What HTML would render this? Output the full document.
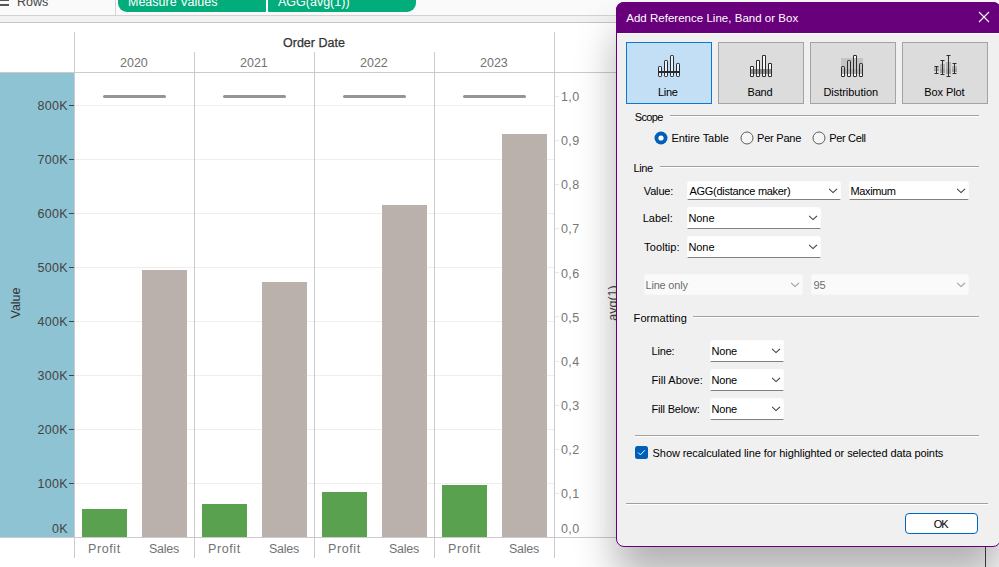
<!DOCTYPE html>
<html><head><meta charset="utf-8">
<style>
*{margin:0;padding:0;box-sizing:border-box}
html,body{width:999px;height:567px;overflow:hidden;background:#fff;font-family:"Liberation Sans",sans-serif}
.a{position:absolute}
.t{position:absolute;white-space:nowrap;line-height:1}
.ct{font-size:12.5px;color:#737373}
.dt{font-size:11px;color:#000}
.vl{position:absolute;width:1px;background:#cbcbcb}
.hl{position:absolute;height:1px;background:#cbcbcb}
.grid{position:absolute;height:1px;background:#eeeeee;left:75px;width:479px}
.tk{position:absolute;height:1px;width:5px;left:69px;background:#444}
.ylab{position:absolute;right:931px;font-size:12.5px;color:#444;letter-spacing:0.3px;line-height:1;white-space:nowrap}
.rlab{position:absolute;left:561px;font-size:12.5px;color:#777;letter-spacing:0.4px;line-height:1;white-space:nowrap}
.bar{position:absolute;width:45px}
.p{background:#59a14f}
.s{background:#bab0ac}
.ref{position:absolute;height:3px;width:63px;background:#959595;border-radius:2px;top:94.5px}
</style></head><body>
<!-- top bar -->
<div class="a" style="left:0;top:0;width:999px;height:15px;background:#fafafa"></div>
<div class="a" style="left:0;top:15px;width:999px;height:1px;background:#d3d3d3"></div>
<div class="a" style="left:0;top:16px;width:999px;height:6px;background:#f2f2f2"></div>
<div class="a" style="left:0;top:22px;width:999px;height:1px;background:#c4c4c4"></div>
<div class="a" style="left:0;top:-1px;width:9px;height:2px;background:#555"></div>
<div class="a" style="left:0;top:4px;width:9px;height:2px;background:#555"></div>
<div class="t" style="left:17px;top:-3.6px;font-size:12.5px;color:#444">Rows</div>
<div class="a" style="left:115px;top:0;width:1px;height:15px;background:#d6d6d6"></div>
<div class="a" style="left:118px;top:-12px;width:148px;height:24px;background:#03ac7b;border-radius:9px 1px 1px 9px"></div>
<div class="a" style="left:268px;top:-12px;width:148px;height:24px;background:#03ac7b;border-radius:1px 9px 9px 1px"></div>
<div class="t" style="left:128px;top:-4px;font-size:12.5px;color:#fff">Measure Values</div>
<div class="t" style="left:278px;top:-4px;font-size:12.5px;color:#fff">AGG(avg(1))</div>

<!-- chart -->
<div class="a" style="left:0;top:73px;width:74px;height:464px;background:#8dc3d3"></div>
<div class="t" style="left:283px;top:37px;font-size:12.5px;color:#333;-webkit-text-stroke:0.25px #333">Order Date</div>
<div class="t ct" style="left:120px;top:57.4px">2020</div>
<div class="t ct" style="left:240px;top:57.4px">2021</div>
<div class="t ct" style="left:360px;top:57.4px">2022</div>
<div class="t ct" style="left:480px;top:57.4px">2023</div>

<div class="grid" style="top:105px"></div>
<div class="grid" style="top:159px"></div>
<div class="grid" style="top:213px"></div>
<div class="grid" style="top:267px"></div>
<div class="grid" style="top:321px"></div>
<div class="grid" style="top:375px"></div>
<div class="grid" style="top:429px"></div>
<div class="grid" style="top:483px"></div>

<div class="vl" style="left:74px;top:32px;height:526px"></div>
<div class="vl" style="left:194px;top:52px;height:506px"></div>
<div class="vl" style="left:314px;top:52px;height:506px"></div>
<div class="vl" style="left:434px;top:52px;height:506px"></div>
<div class="vl" style="left:554px;top:32px;height:526px"></div>
<div class="hl" style="left:0;top:72px;width:999px"></div>
<div class="hl" style="left:0;top:537px;width:999px"></div>

<div class="tk" style="top:105px"></div>
<div class="tk" style="top:159px"></div>
<div class="tk" style="top:213px"></div>
<div class="tk" style="top:267px"></div>
<div class="tk" style="top:321px"></div>
<div class="tk" style="top:375px"></div>
<div class="tk" style="top:429px"></div>
<div class="tk" style="top:483px"></div>
<div class="ylab" style="top:100.0px">800K</div>
<div class="ylab" style="top:154.0px">700K</div>
<div class="ylab" style="top:208.0px">600K</div>
<div class="ylab" style="top:262.0px">500K</div>
<div class="ylab" style="top:316.0px">400K</div>
<div class="ylab" style="top:370.0px">300K</div>
<div class="ylab" style="top:424.0px">200K</div>
<div class="ylab" style="top:478.0px">100K</div>
<div class="ylab" style="top:523.0px">0K</div>
<div class="t" style="left:15.5px;top:303px;font-size:12.5px;color:#333;transform:translate(-50%,-50%) rotate(-90deg)">Value</div>

<div class="a" style="left:555px;top:493px;width:4px;height:1px;background:#e8e8e8"></div>
<div class="a" style="left:555px;top:449px;width:4px;height:1px;background:#e8e8e8"></div>
<div class="a" style="left:555px;top:405px;width:4px;height:1px;background:#e8e8e8"></div>
<div class="a" style="left:555px;top:361px;width:4px;height:1px;background:#e8e8e8"></div>
<div class="a" style="left:555px;top:316px;width:4px;height:1px;background:#e8e8e8"></div>
<div class="a" style="left:555px;top:272px;width:4px;height:1px;background:#e8e8e8"></div>
<div class="a" style="left:555px;top:228px;width:4px;height:1px;background:#e8e8e8"></div>
<div class="a" style="left:555px;top:184px;width:4px;height:1px;background:#e8e8e8"></div>
<div class="a" style="left:555px;top:140px;width:4px;height:1px;background:#e8e8e8"></div>
<div class="a" style="left:555px;top:96px;width:4px;height:1px;background:#e8e8e8"></div>
<div class="rlab" style="top:91px">1,0</div>
<div class="rlab" style="top:135px">0,9</div>
<div class="rlab" style="top:179px">0,8</div>
<div class="rlab" style="top:223px">0,7</div>
<div class="rlab" style="top:268px">0,6</div>
<div class="rlab" style="top:312px">0,5</div>
<div class="rlab" style="top:356px">0,4</div>
<div class="rlab" style="top:400px">0,3</div>
<div class="rlab" style="top:444px">0,2</div>
<div class="rlab" style="top:488px">0,1</div>
<div class="rlab" style="top:522.5px">0,0</div>
<div class="t" style="left:612.5px;top:303px;font-size:12.5px;color:#444;transform:translate(-50%,-50%) rotate(-90deg)">avg(1)</div>

<div class="bar p" style="left:82px;top:509px;height:28px"></div>
<div class="bar s" style="left:142px;top:270px;height:267px"></div>
<div class="bar p" style="left:202px;top:504px;height:33px"></div>
<div class="bar s" style="left:262px;top:282px;height:255px"></div>
<div class="bar p" style="left:322px;top:492px;height:45px"></div>
<div class="bar s" style="left:382px;top:205px;height:332px"></div>
<div class="bar p" style="left:442px;top:485px;height:52px"></div>
<div class="bar s" style="left:502px;top:134px;height:403px"></div>

<div class="ref" style="left:103px"></div>
<div class="ref" style="left:223px"></div>
<div class="ref" style="left:343px"></div>
<div class="ref" style="left:463px"></div>

<div class="t ct" style="left:88px;top:543px;letter-spacing:0.6px">Profit</div>
<div class="t ct" style="left:149px;top:543px;letter-spacing:-0.25px">Sales</div>
<div class="t ct" style="left:208px;top:543px;letter-spacing:0.6px">Profit</div>
<div class="t ct" style="left:269px;top:543px;letter-spacing:-0.25px">Sales</div>
<div class="t ct" style="left:328px;top:543px;letter-spacing:0.6px">Profit</div>
<div class="t ct" style="left:389px;top:543px;letter-spacing:-0.25px">Sales</div>
<div class="t ct" style="left:448px;top:543px;letter-spacing:0.6px">Profit</div>
<div class="t ct" style="left:509px;top:543px;letter-spacing:-0.25px">Sales</div>

<div class="a" style="left:985px;top:540px;width:1px;height:27px;background:#444"></div>
<!-- dialog -->
<div class="a" style="left:985px;top:540px;width:1px;height:27px;background:#444"></div>
<div class="a" style="left:616px;top:2px;width:385px;height:545px;background:#f0f0f0;border:1px solid #68007c;border-radius:8px 8px 8px 8px;box-shadow:0 30px 40px rgba(0,0,0,0.3)"></div>
<div class="a" style="left:616px;top:2px;width:385px;height:31px;background:#68007c;border-radius:8px 8px 0 0"></div>
<div class="a" style="left:617px;top:33px;width:383px;height:1px;background:#fbfbfb"></div>
<div class="t" style="left:626.20px;top:13px;font-size:11.5px;color:#fff;letter-spacing:0.023px">Add Reference Line, Band or Box</div>
<svg class="a" style="left:978px;top:11px" width="12" height="12" viewBox="0 0 12 12"><path d="M1 1 L11 11 M11 1 L1 11" stroke="#fff" stroke-width="1.1"/></svg>
<div class="a" style="left:626px;top:42px;width:86px;height:62px;background:#c3dff5;border:1px solid #0a78d6"></div>
<div class="t" style="left:658.00px;top:87px;font-size:11px;color:#000;letter-spacing:-0.333px">Line</div>
<div class="a" style="left:718px;top:42px;width:86px;height:62px;background:#dcdcdc;border:1px solid #a3a3a3"></div>
<div class="t" style="left:747.50px;top:87px;font-size:11px;color:#000;letter-spacing:-0.167px">Band</div>
<div class="a" style="left:810px;top:42px;width:86px;height:62px;background:#dcdcdc;border:1px solid #a3a3a3"></div>
<div class="t" style="left:823.40px;top:87px;font-size:11px;color:#000;letter-spacing:-0.027px">Distribution</div>
<div class="a" style="left:902px;top:42px;width:86px;height:62px;background:#dcdcdc;border:1px solid #a3a3a3"></div>
<div class="t" style="left:924.30px;top:87px;font-size:11px;color:#000;letter-spacing:-0.100px">Box Plot</div>
<svg class="a" style="left:0;top:0" width="999" height="120"><rect x="658.5" y="66.5" width="3" height="10" rx="0.7" fill="#e6f2fc" stroke="#2b2b2b" stroke-width="1"/><rect x="664.5" y="60.5" width="3" height="16" rx="0.7" fill="#e6f2fc" stroke="#2b2b2b" stroke-width="1"/><rect x="670.5" y="55.5" width="3" height="21" rx="0.7" fill="#e6f2fc" stroke="#2b2b2b" stroke-width="1"/><rect x="676.5" y="63.5" width="3" height="13" rx="0.7" fill="#e6f2fc" stroke="#2b2b2b" stroke-width="1"/><rect x="658" y="71" width="22" height="2" fill="#2b2b2b"/><rect x="750.5" y="66.5" width="3" height="10" rx="0.7" fill="#fafafa" stroke="#2b2b2b" stroke-width="1"/><rect x="756.5" y="60.5" width="3" height="16" rx="0.7" fill="#fafafa" stroke="#2b2b2b" stroke-width="1"/><rect x="762.5" y="55.5" width="3" height="21" rx="0.7" fill="#fafafa" stroke="#2b2b2b" stroke-width="1"/><rect x="768.5" y="63.5" width="3" height="13" rx="0.7" fill="#fafafa" stroke="#2b2b2b" stroke-width="1"/><rect x="750" y="69" width="22" height="5" fill="#7a7a7a" opacity="0.8"/><rect x="750.5" y="66.5" width="3" height="10" rx="0.7" fill="none" stroke="#2b2b2b" stroke-width="1"/><rect x="756.5" y="60.5" width="3" height="16" rx="0.7" fill="none" stroke="#2b2b2b" stroke-width="1"/><rect x="762.5" y="55.5" width="3" height="21" rx="0.7" fill="none" stroke="#2b2b2b" stroke-width="1"/><rect x="768.5" y="63.5" width="3" height="13" rx="0.7" fill="none" stroke="#2b2b2b" stroke-width="1"/><rect x="841.5" y="66.5" width="3" height="10" rx="0.7" fill="#fafafa" stroke="#2b2b2b" stroke-width="1"/><rect x="847.5" y="60.5" width="3" height="16" rx="0.7" fill="#fafafa" stroke="#2b2b2b" stroke-width="1"/><rect x="853.5" y="55.5" width="3" height="21" rx="0.7" fill="#fafafa" stroke="#2b2b2b" stroke-width="1"/><rect x="859.5" y="63.5" width="3" height="13" rx="0.7" fill="#fafafa" stroke="#2b2b2b" stroke-width="1"/><rect x="841" y="58" width="22" height="11" fill="#c4c4c4"/><rect x="841" y="69" width="22" height="5" fill="#b2b2b2"/><rect x="841.5" y="66.5" width="3" height="10" rx="0.7" fill="none" stroke="#2b2b2b" stroke-width="1"/><rect x="847.5" y="60.5" width="3" height="16" rx="0.7" fill="none" stroke="#2b2b2b" stroke-width="1"/><rect x="853.5" y="55.5" width="3" height="21" rx="0.7" fill="none" stroke="#2b2b2b" stroke-width="1"/><rect x="859.5" y="63.5" width="3" height="13" rx="0.7" fill="none" stroke="#2b2b2b" stroke-width="1"/><rect x="934" y="67" width="5" height="2" fill="#b4b4b4"/><rect x="934" y="69" width="5" height="2" fill="#a2a2a2"/><path d="M936.5 66.5 V73.5 M934.5 66.5 H938.5 M934.5 73.5 H938.5" stroke="#2e2e2e" stroke-width="1" fill="none"/><rect x="940" y="64" width="5" height="5" fill="#b4b4b4"/><rect x="940" y="69" width="5" height="4" fill="#a2a2a2"/><path d="M942.5 60.5 V74.5 M940.5 60.5 H944.5 M940.5 74.5 H944.5" stroke="#2e2e2e" stroke-width="1" fill="none"/><rect x="946" y="62" width="5" height="7" fill="#b4b4b4"/><rect x="946" y="69" width="5" height="5" fill="#a2a2a2"/><path d="M948.5 55.5 V76.5 M946.5 55.5 H950.5 M946.5 76.5 H950.5" stroke="#2e2e2e" stroke-width="1" fill="none"/><rect x="952" y="66" width="5" height="3" fill="#b4b4b4"/><rect x="952" y="69" width="5" height="3" fill="#a2a2a2"/><path d="M954.5 63.5 V73.5 M952.5 63.5 H956.5 M952.5 73.5 H956.5" stroke="#2e2e2e" stroke-width="1" fill="none"/></svg>
<div class="t" style="left:634.80px;top:112px;font-size:11px;color:#000;letter-spacing:-0.650px">Scope</div>
<div class="a" style="left:670px;top:115px;width:309px;height:1px;background:#a0a0a0"></div><div class="a" style="left:670px;top:116px;width:309px;height:1px;background:#fff"></div>
<svg class="a" style="left:653.5px;top:130.5px" width="14" height="14" viewBox="0 0 14 14"><circle cx="7" cy="7" r="6.5" fill="#005fb8"/><circle cx="7" cy="7" r="2.6" fill="#fff"/></svg>
<div class="t" style="left:671.40px;top:133px;font-size:11px;color:#000;letter-spacing:-0.045px">Entire Table</div>
<svg class="a" style="left:739.5px;top:130.5px" width="14" height="14" viewBox="0 0 14 14"><circle cx="7" cy="7" r="6" fill="#f6f6f6" stroke="#5c5c5c" stroke-width="1"/></svg>
<div class="t" style="left:757.10px;top:133px;font-size:11px;color:#000;letter-spacing:-0.243px">Per Pane</div>
<svg class="a" style="left:811.5px;top:130.5px" width="14" height="14" viewBox="0 0 14 14"><circle cx="7" cy="7" r="6" fill="#f6f6f6" stroke="#5c5c5c" stroke-width="1"/></svg>
<div class="t" style="left:829.30px;top:133px;font-size:11px;color:#000;letter-spacing:-0.343px">Per Cell</div>
<div class="t" style="left:633.60px;top:163px;font-size:11px;color:#000;letter-spacing:-0.433px">Line</div>
<div class="a" style="left:660px;top:166px;width:319px;height:1px;background:#a0a0a0"></div><div class="a" style="left:660px;top:167px;width:319px;height:1px;background:#fff"></div>
<div class="t" style="left:643.80px;top:186px;font-size:11px;color:#000;letter-spacing:-0.160px">Value:</div>
<div class="a" style="left:687px;top:181px;width:154px;height:19px;background:#fff;border:1px solid #fcfcfc;border-bottom:1px solid #808080;border-radius:3px 3px 0 0"></div>
<div class="t" style="left:689.50px;top:186px;font-size:11px;color:#000;letter-spacing:-0.289px">AGG(distance maker)</div>
<svg class="a" style="left:829px;top:188px" width="9" height="6" viewBox="0 0 9 6"><path d="M0 0.8 L4 4.6 L8 0.8" fill="none" stroke="#3c3c3c" stroke-width="1.1"/></svg>
<div class="a" style="left:849px;top:181px;width:120px;height:19px;background:#fff;border:1px solid #fcfcfc;border-bottom:1px solid #808080;border-radius:3px 3px 0 0"></div>
<div class="t" style="left:850.50px;top:186px;font-size:11px;color:#000;letter-spacing:-0.367px">Maximum</div>
<svg class="a" style="left:957px;top:188px" width="9" height="6" viewBox="0 0 9 6"><path d="M0 0.8 L4 4.6 L8 0.8" fill="none" stroke="#3c3c3c" stroke-width="1.1"/></svg>
<div class="t" style="left:642.70px;top:213px;font-size:11px;color:#000;letter-spacing:0.020px">Label:</div>
<div class="a" style="left:687px;top:207px;width:134px;height:22px;background:#fff;border:1px solid #fcfcfc;border-bottom:1px solid #808080;border-radius:3px 3px 0 0"></div>
<div class="t" style="left:688.50px;top:213px;font-size:11px;color:#000;letter-spacing:-0.100px">None</div>
<svg class="a" style="left:809px;top:215px" width="9" height="6" viewBox="0 0 9 6"><path d="M0 0.8 L4 4.6 L8 0.8" fill="none" stroke="#3c3c3c" stroke-width="1.1"/></svg>
<div class="t" style="left:644.10px;top:242px;font-size:11px;color:#000;letter-spacing:0.100px">Tooltip:</div>
<div class="a" style="left:687px;top:236px;width:134px;height:22px;background:#fff;border:1px solid #fcfcfc;border-bottom:1px solid #808080;border-radius:3px 3px 0 0"></div>
<div class="t" style="left:688.50px;top:242px;font-size:11px;color:#000;letter-spacing:-0.100px">None</div>
<svg class="a" style="left:809px;top:244px" width="9" height="6" viewBox="0 0 9 6"><path d="M0 0.8 L4 4.6 L8 0.8" fill="none" stroke="#3c3c3c" stroke-width="1.1"/></svg>
<div class="a" style="left:644px;top:274px;width:159px;height:21px;background:#fafafa;border:1px solid #f7f7f7;border-radius:2px"></div>
<div class="t" style="left:645.50px;top:280px;font-size:11px;color:#6d6d6d;letter-spacing:-0.200px">Line only</div>
<svg class="a" style="left:791px;top:282px" width="9" height="6" viewBox="0 0 9 6"><path d="M0 0.8 L4 4.6 L8 0.8" fill="none" stroke="#9a9a9a" stroke-width="1.1"/></svg>
<div class="a" style="left:811px;top:274px;width:158px;height:21px;background:#fafafa;border:1px solid #f7f7f7;border-radius:2px"></div>
<div class="t" style="left:813.50px;top:280px;font-size:11px;color:#6d6d6d;letter-spacing:-0.200px">95</div>
<svg class="a" style="left:957px;top:282px" width="9" height="6" viewBox="0 0 9 6"><path d="M0 0.8 L4 4.6 L8 0.8" fill="none" stroke="#9a9a9a" stroke-width="1.1"/></svg>
<div class="t" style="left:633.60px;top:313px;font-size:11px;color:#000;letter-spacing:0.078px">Formatting</div>
<div class="a" style="left:693px;top:316px;width:286px;height:1px;background:#a0a0a0"></div><div class="a" style="left:693px;top:317px;width:286px;height:1px;background:#fff"></div>
<div class="t" style="left:651.60px;top:346px;font-size:11px;color:#000;letter-spacing:-0.200px">Line:</div>
<div class="a" style="left:710px;top:340px;width:74px;height:22px;background:#fff;border:1px solid #fcfcfc;border-bottom:1px solid #808080;border-radius:3px 3px 0 0"></div>
<div class="t" style="left:711.50px;top:346px;font-size:11px;color:#000;letter-spacing:-0.200px">None</div>
<svg class="a" style="left:772px;top:348px" width="9" height="6" viewBox="0 0 9 6"><path d="M0 0.8 L4 4.6 L8 0.8" fill="none" stroke="#3c3c3c" stroke-width="1.1"/></svg>
<div class="t" style="left:651.50px;top:375px;font-size:11px;color:#000;letter-spacing:0.050px">Fill Above:</div>
<div class="a" style="left:710px;top:369px;width:74px;height:22px;background:#fff;border:1px solid #fcfcfc;border-bottom:1px solid #808080;border-radius:3px 3px 0 0"></div>
<div class="t" style="left:711.50px;top:375px;font-size:11px;color:#000;letter-spacing:-0.200px">None</div>
<svg class="a" style="left:772px;top:377px" width="9" height="6" viewBox="0 0 9 6"><path d="M0 0.8 L4 4.6 L8 0.8" fill="none" stroke="#3c3c3c" stroke-width="1.1"/></svg>
<div class="t" style="left:651.50px;top:404px;font-size:11px;color:#000;letter-spacing:-0.190px">Fill Below:</div>
<div class="a" style="left:710px;top:398px;width:74px;height:22px;background:#fff;border:1px solid #fcfcfc;border-bottom:1px solid #808080;border-radius:3px 3px 0 0"></div>
<div class="t" style="left:711.50px;top:404px;font-size:11px;color:#000;letter-spacing:-0.200px">None</div>
<svg class="a" style="left:772px;top:406px" width="9" height="6" viewBox="0 0 9 6"><path d="M0 0.8 L4 4.6 L8 0.8" fill="none" stroke="#3c3c3c" stroke-width="1.1"/></svg>
<div class="a" style="left:635px;top:435px;width:344px;height:1px;background:#a0a0a0"></div><div class="a" style="left:635px;top:436px;width:344px;height:1px;background:#fff"></div>
<svg class="a" style="left:635px;top:446px" width="13" height="13" viewBox="0 0 13 13"><rect x="0" y="0" width="13" height="13" rx="2.5" fill="#005fb8"/><path d="M3.2 6.6 L5.4 8.8 L9.8 4.3" stroke="#fff" stroke-width="1" fill="none"/></svg>
<div class="t" style="left:652.60px;top:448px;font-size:11px;color:#000;letter-spacing:-0.085px">Show recalculated line for highlighted or selected data points</div>
<div class="a" style="left:626px;top:503px;width:362px;height:1px;background:#a0a0a0"></div><div class="a" style="left:626px;top:504px;width:362px;height:1px;background:#fff"></div>
<div class="a" style="left:905px;top:513px;width:73px;height:21px;background:#fff;border:1.5px solid #0067c0;border-radius:4px"></div>
<div class="t" style="left:933.80px;top:519px;font-size:11px;color:#000;letter-spacing:-1.000px">OK</div>
</body></html>
